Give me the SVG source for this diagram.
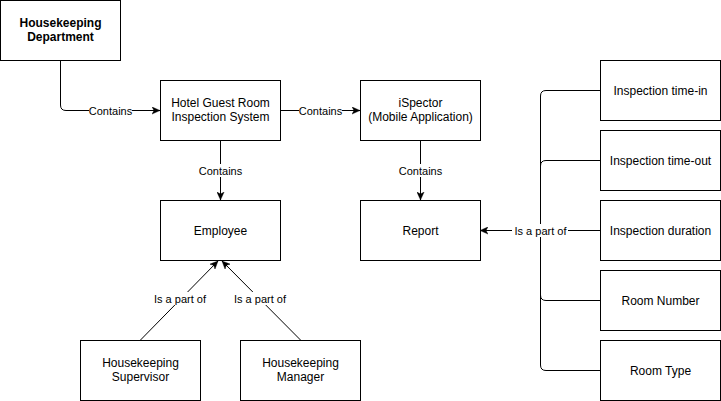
<svg xmlns="http://www.w3.org/2000/svg" width="721" height="401" viewBox="0 0 721 401">
<style>
.box{fill:#fff;stroke:#000;stroke-width:1}
.t{font-family:"Liberation Sans",Arial,sans-serif;font-size:12px;fill:#000;text-anchor:middle}
.b{font-weight:bold}
.e{fill:none;stroke:#000;stroke-width:1}
.lb{fill:#fff}
.lt{font-family:"Liberation Sans",Arial,sans-serif;font-size:11px;fill:#000;text-anchor:middle}
</style>
<defs>
<marker id="arr" viewBox="0 0 10 10" refX="10" refY="5" markerWidth="8" markerHeight="8" markerUnits="userSpaceOnUse" orient="auto">
<path d="M0,0.5 L10,5 L0,9.5 L2.5,5 Z" fill="#000" stroke="#000" stroke-width="0.5"/>
</marker>
</defs>
<rect width="721" height="401" fill="#fff"/>
<g id="connectors">
<path class="e" d="M60.5 60 V105 Q60.5 110.5 66 110.5 H160" marker-end="url(#arr)"/>
<path class="e" d="M280 110.5 H360" marker-end="url(#arr)"/>
<path class="e" d="M220.5 140 V200" marker-end="url(#arr)"/>
<path class="e" d="M420.5 140 V200" marker-end="url(#arr)"/>
<path class="e" d="M140.5 340 L218 261" marker-end="url(#arr)"/>
<path class="e" d="M300.5 340 L222 261" marker-end="url(#arr)"/>
<path class="e" d="M600 90.5 H546 Q540.5 90.5 540.5 96 V230.5 H480" marker-end="url(#arr)"/>
<path class="e" d="M600 160.5 H546 Q540.5 160.5 540.5 166 V230.5 H480"/>
<path class="e" d="M600 230.5 H480"/>
<path class="e" d="M600 300.5 H546 Q540.5 300.5 540.5 295 V230.5 H480"/>
<path class="e" d="M600 370.5 H546 Q540.5 370.5 540.5 365 V230.5 H480"/>
<rect class="lb" x="89" y="104" width="43" height="13"/>
<text class="lt" x="110.5" y="114.5">Contains</text>
<rect class="lb" x="299" y="104" width="43" height="13"/>
<text class="lt" x="320.5" y="114.5">Contains</text>
<rect class="lb" x="199" y="164" width="43" height="13"/>
<text class="lt" x="220.5" y="174.5">Contains</text>
<rect class="lb" x="399" y="164" width="43" height="13"/>
<text class="lt" x="420.5" y="174.5">Contains</text>
<rect class="lb" x="152" y="292" width="56" height="13"/>
<text class="lt" x="180" y="302.5">Is a part of</text>
<rect class="lb" x="232" y="292" width="56" height="13"/>
<text class="lt" x="260" y="302.5">Is a part of</text>
<rect class="lb" x="512" y="224" width="56" height="13"/>
<text class="lt" x="540.5" y="234.5">Is a part of</text>
</g>
<g id="housekeeping-department">
<rect class="box" x="0.5" y="0.5" width="120" height="60"/>
<text class="t b" x="60.5" y="27">Housekeeping</text>
<text class="t b" x="60.5" y="41">Department</text>
</g>
<g id="hgris">
<rect class="box" x="160.5" y="80.5" width="120" height="60"/>
<text class="t" x="220.5" y="107">Hotel Guest Room</text>
<text class="t" x="220.5" y="121">Inspection System</text>
</g>
<g id="ispector">
<rect class="box" x="360.5" y="80.5" width="120" height="60"/>
<text class="t" x="420.5" y="107">iSpector</text>
<text class="t" x="420.5" y="121">(Mobile Application)</text>
</g>
<g id="employee">
<rect class="box" x="160.5" y="200.5" width="120" height="60"/>
<text class="t" x="220.5" y="235">Employee</text>
</g>
<g id="report">
<rect class="box" x="360.5" y="200.5" width="120" height="60"/>
<text class="t" x="420.5" y="235">Report</text>
</g>
<g id="supervisor">
<rect class="box" x="80.5" y="340.5" width="120" height="60"/>
<text class="t" x="140.5" y="367">Housekeeping</text>
<text class="t" x="140.5" y="381">Supervisor</text>
</g>
<g id="manager">
<rect class="box" x="240.5" y="340.5" width="120" height="60"/>
<text class="t" x="300.5" y="367">Housekeeping</text>
<text class="t" x="300.5" y="381">Manager</text>
</g>
<g id="time-in">
<rect class="box" x="600.5" y="60.5" width="120" height="60"/>
<text class="t" x="660.5" y="95">Inspection time-in</text>
</g>
<g id="time-out">
<rect class="box" x="600.5" y="130.5" width="120" height="60"/>
<text class="t" x="660.5" y="165">Inspection time-out</text>
</g>
<g id="duration">
<rect class="box" x="600.5" y="200.5" width="120" height="60"/>
<text class="t" x="660.5" y="235">Inspection duration</text>
</g>
<g id="room-number">
<rect class="box" x="600.5" y="270.5" width="120" height="60"/>
<text class="t" x="660.5" y="305">Room Number</text>
</g>
<g id="room-type">
<rect class="box" x="600.5" y="340.5" width="120" height="60"/>
<text class="t" x="660.5" y="375">Room Type</text>
</g>
</svg>
